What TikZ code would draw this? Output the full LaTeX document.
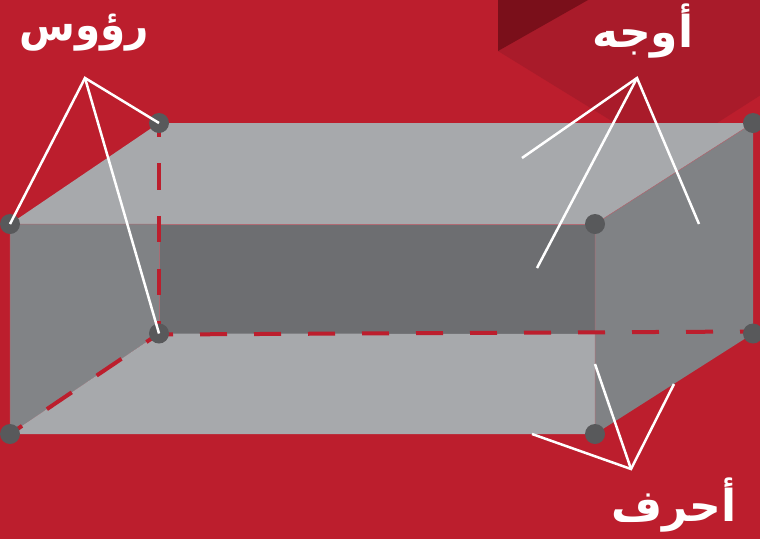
\documentclass[tikz,border=0pt]{standalone}
\usepackage{fontspec}
\newfontfamily\arabicfont[Script=Arabic]{DejaVu Sans}
\TeXXeTstate=1
\definecolor{bgred}{HTML}{BC1E2D}
\definecolor{midred}{HTML}{A91B2A}
\definecolor{darkred}{HTML}{7A0F1A}
\definecolor{lightface}{HTML}{A7A9AC}
\definecolor{backface}{HTML}{6D6E71}
\definecolor{sideface}{HTML}{808285}
\definecolor{vertexgray}{HTML}{58595B}
\pgfdeclarelayer{front}
\pgfsetlayers{main,front}
\tikzset{
  vertexdot/.style={circle,fill=vertexgray,minimum size=20pt,inner sep=0pt},
  pointer/.style={draw=white,line width=2.5pt},
  hiddenedge/.style={draw=bgred,line width=4pt},
  arlabel/.style={text=white,font=\arabicfont\bfseries\fontsize{44}{44}\selectfont,inner sep=0pt},
  faceedge/.style={draw=bgred!45!lightface,line width=.5pt}
}
\begin{document}
\begin{tikzpicture}[x=1pt,y=-1pt]
\useasboundingbox (0,0) rectangle (760,539);
\begin{pgfonlayer}{front}
\node[vertexdot] (a) at (10,224) {};
\node[vertexdot] (b) at (159,123) {};
\node[vertexdot] (c) at (753,123) {};
\node[vertexdot] (d) at (595,224) {};
\node[vertexdot] (e) at (10,434) {};
\node[vertexdot] (f) at (159,333.5) {};
\node[vertexdot] (g) at (595,434) {};
\node[vertexdot] (h) at (753,333.5) {};
\end{pgfonlayer}
\coordinate (backtl) at (159,224);
\coordinate (backbr) at (595,334);
\fill[bgred] (0,0) rectangle (760,539);
\fill[midred] (498,0)--(760,0)--(760,95.5)--(717,123)--(615,123)--(498,51)--cycle;
\fill[darkred] (498,0)--(588,0)--(498,51)--cycle;
% box faces
\fill[lightface] (a.center)--(b.center)--(c.center)--(d.center)--cycle;
\fill[backface,faceedge] (backtl) rectangle (backbr);
\shade[top color=sideface,bottom color=sideface!94!lightface] (a.center)--(backtl)--(f.center)--(e.center)--cycle;
\fill[sideface] (d.center)--(c.center)--(h.center)--(g.center)--cycle;
\fill[lightface] (e.center)--(f.center)--(backbr)--(g.center)--cycle;
\draw[faceedge] (a.center)--(backtl) (a.center)--(e.center) (d.center)--(g.center) (d.center)--(c.center);
% hidden edges
\draw[hiddenedge,dash pattern=on 26.5pt off 26.2pt,dash phase=12.5pt] (b.center)--(f.center);
\draw[hiddenedge,dash pattern=on 27pt off 27pt,dash phase=13pt] ([yshift=-1pt]f.center)--([yshift=2pt]h.center);
\draw[hiddenedge,dash pattern=on 30pt off 30pt,dash phase=15.5pt] (e.center)--(f.center);
% labels
\node[arlabel,xscale=.92] (vertices) at (84,33) {\beginR رؤوس\endR};
\node[arlabel] (faces) at (643,31) {\beginR أوجه\endR};
\node[arlabel] (edges) at (674,505) {\beginR أحرف\endR};
\coordinate (vtip) at (85,78);
\coordinate (ftip) at (637,78);
\coordinate (etip) at (631,469);
\coordinate (f1) at (522,158);
\coordinate (f2) at (537,268);
\coordinate (f3) at (699,224);
\coordinate (e1) at (532,434);
\coordinate (e2) at (595,364);
\coordinate (e3) at (674,384);
\begin{pgfonlayer}{front}
\draw[pointer] (a.center)--(vtip)--(b.center);
\draw[pointer] (vtip)--(f.center);
\draw[pointer] (f1)--(ftip)--(f3);
\draw[pointer] (ftip)--(f2);
\draw[pointer] (e1)--(etip)--(e3);
\draw[pointer] (etip)--(e2);
\end{pgfonlayer}
\end{tikzpicture}
\end{document}
